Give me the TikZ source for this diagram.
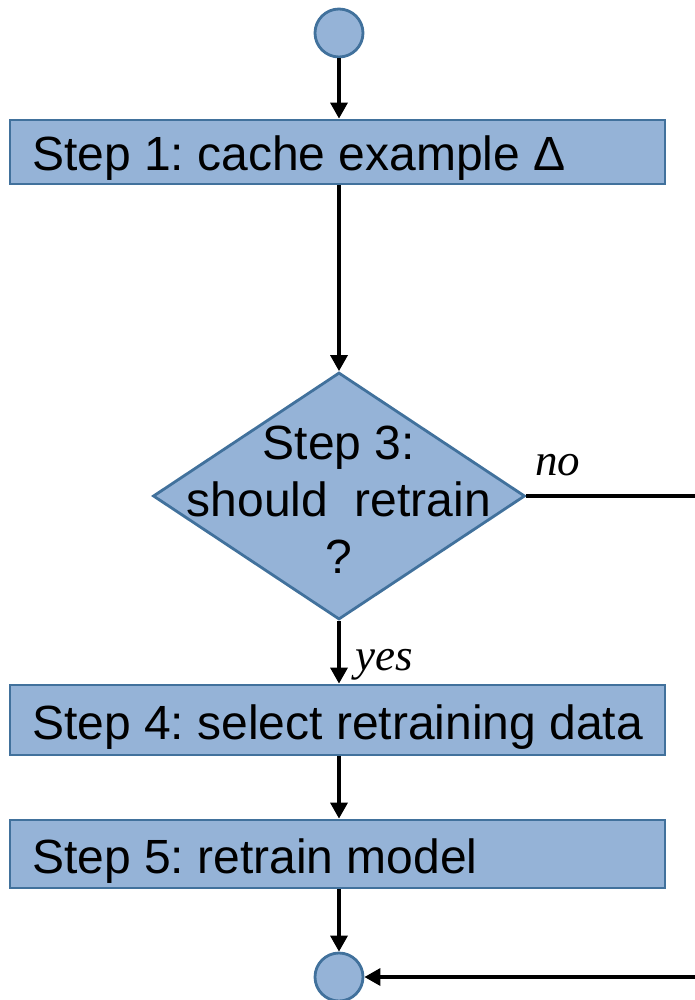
\documentclass[tikz,border=0pt]{standalone}
\usepackage{fontspec}
\setmainfont{Liberation Sans}
\newfontfamily\branchfont{Liberation Serif}
\usetikzlibrary{shapes.geometric,arrows.meta}
\definecolor{stepfill}{HTML}{95B3D7}
\definecolor{stepline}{HTML}{41719C}
\newcommand\steptext[1]{\makebox[611pt][l]{#1}}
\frenchspacing

\begin{document}
\begin{tikzpicture}[x=1pt,y=-1pt,
  stepbox/.style={draw=stepline, fill=stepfill, line width=2.8pt,
    inner xsep=22pt, inner ysep=0pt, text height=44pt, text depth=6pt,
    font=\fontsize{48}{57}\selectfont},
  terminal/.style={circle, draw=stepline, fill=stepfill, line width=2.8pt,
    minimum size=48pt, inner sep=0pt},
  decision/.style={diamond, draw=stepline, fill=stepfill, line width=2.8pt,
    minimum width=372pt, minimum height=247pt, inner sep=0pt},
  flow/.style={line width=3.4pt, -{Triangle[length=16pt,width=17pt]}},
  branch/.style={font=\branchfont\itshape\fontsize{45}{54}\selectfont, inner sep=0pt}
]
\useasboundingbox (0,0) rectangle (694,1000);

% start / end terminals
\node[terminal] (start) at (339,33) {};
\node[terminal] (stop) at (339,977) {};

% process steps
\node[stepbox, minimum height=64pt] (s1) at (337.5,152) {\steptext{Step 1: cache example Δ}};
\node[stepbox, minimum height=70pt] (s4) at (337.5,720) {\steptext{Step 4: select retraining data}};
\node[stepbox, minimum height=68pt] (s5) at (337.5,854) {\steptext{Step 5: retrain model}};

% decision
\node[decision] (s3) at (339,496) {};
\node[align=center, inner sep=0pt, font=\fontsize{48}{57}\selectfont] (s3text) at (339,500)
  {Step 3:\\should~~retrain\\?};

% branch labels
\node[branch, anchor=base west] (lno) at (535,475) {no};
\node[branch, anchor=base west] (lyes) at (355,670) {yes};

% corners of the "no" path along the right edge
\coordinate (c1) at (700,496);
\coordinate (c2) at (700,977);

% connectors
\draw[flow] (start) -- (s1.north -| start);
\draw[flow] (s1.south -| s3) -- (s3.north);
\draw[flow] (s3.south) -- (s4.north -| s3);
\draw[flow] (s4.south -| s3) -- (s5.north -| s3);
\draw[flow] (s5.south -| stop) -- (stop.north);
\draw[flow] (s3.east) -- (c1) -- (c2) -- (stop.east);
\end{tikzpicture}
\end{document}
